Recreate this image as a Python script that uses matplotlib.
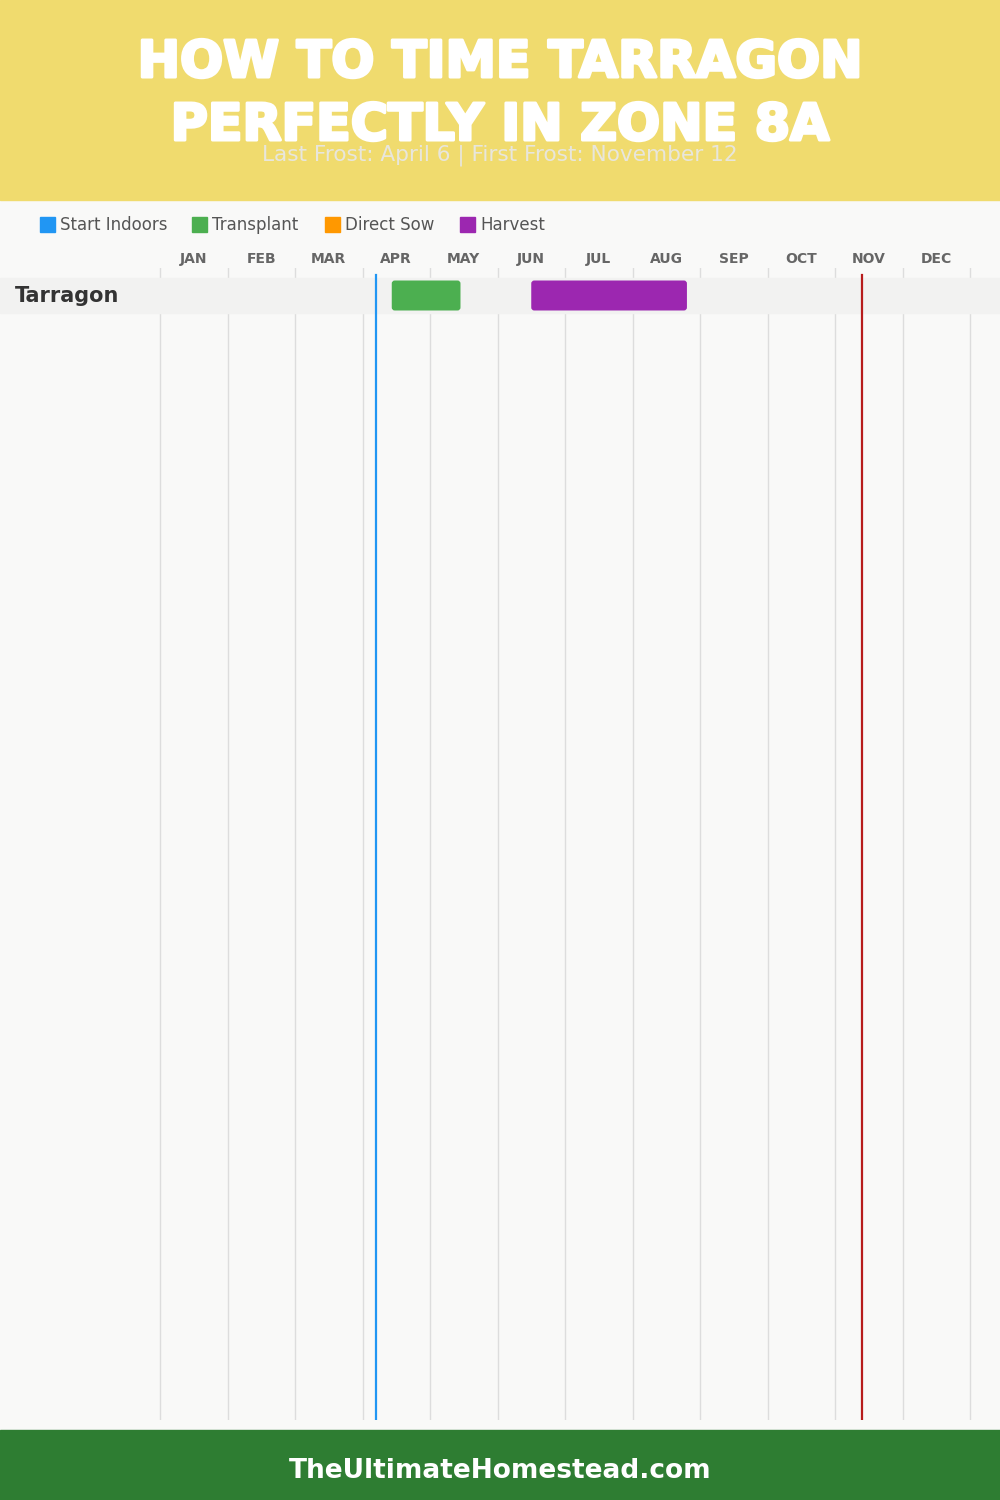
import matplotlib
matplotlib.use("Agg")
import matplotlib.pyplot as plt
import matplotlib.patheffects as pe
from matplotlib.patches import Rectangle, FancyBboxPatch

# data
months = ["JAN", "FEB", "MAR", "APR", "MAY", "JUN", "JUL", "AUG", "SEP", "OCT", "NOV", "DEC"]
days_in_month = [31, 28, 31, 30, 31, 30, 31, 31, 30, 31, 30, 31]
crops = ["Tarragon"]
transplant = [((4, 13), (5, 14))]
harvest = [((6, 15), (8, 25))]
last_frost = (4, 6)
first_frost = (11, 12)
legend_names = ["Start Indoors", "Transplant", "Direct Sow", "Harvest"]
legend_colors = ["#2196f3", "#4caf50", "#ff9800", "#9c27b0"]


def to_x(md):
    m, d = md
    return (m - 1) + d / days_in_month[m - 1]


W, H = 1000, 1500
fig = plt.figure(figsize=(10, 15), dpi=100)
fig.patch.set_facecolor("#f9f9f8")

# header / footer bands
fig.patches.append(Rectangle((0, 1 - 200 / H), 1, 200 / H, transform=fig.transFigure,
                             color="#f0db6e", zorder=0))
fig.patches.append(Rectangle((0, 0), 1, 70 / H, transform=fig.transFigure,
                             color="#2e7d32", zorder=0))

heavy = [pe.withStroke(linewidth=2.2, foreground="white")]
fig.text(0.5, 1 - 63 / H, "HOW TO TIME TARRAGON", ha="center", va="center",
         fontsize=36.5, fontweight="bold", color="white", path_effects=heavy)
fig.text(0.5, 1 - 126 / H, "PERFECTLY IN ZONE 8A", ha="center", va="center",
         fontsize=36.5, fontweight="bold", color="white", path_effects=heavy)
fig.text(0.5, 1 - 155 / H, "Last Frost: April 6 | First Frost: November 12", ha="center",
         va="center", fontsize=15.6, color="#e8e6dc")
fig.text(0.5, 29 / H, "TheUltimateHomestead.com", ha="center", va="center",
         fontsize=19, fontweight="bold", color="white")

# legend
lx = [40, 192, 325, 460]
for x, name, c in zip(lx, legend_names, legend_colors):
    fig.patches.append(Rectangle((x / W, 1 - 232 / H), 15 / W, 15 / H,
                                 transform=fig.transFigure, color=c, zorder=2))
    fig.text((x + 20) / W, 1 - 225 / H, name, ha="left", va="center",
             fontsize=12, color="#555555")

# chart axes: full width, y from 268 to 1420 px (pixel units inside)
top, bot = 268, 1420
ax = fig.add_axes([0, 1 - bot / H, 1, (bot - top) / H])
px = 12 / 810
ax.set_xlim(-160 * px, 840 * px)
ax.set_ylim(bot, top)
ax.axis("off")

for i in range(13):
    ax.axvline(i, color="#dddddd", lw=1, zorder=1)
for i, m in enumerate(months):
    fig.text((160 + (i + 0.5) * 67.5) / W, 1 - 259 / H, m, ha="center", va="center",
             fontsize=10, fontweight="bold", color="#666666")

row_h = 35
for r, crop in enumerate(crops):
    yc = 295.5 + r * row_h
    ax.add_patch(Rectangle((-160 * px, yc - row_h / 2), 1000 * px, row_h,
                           color="#f2f2f1", zorder=2))
    ax.text(-145 * px, yc, crop, ha="left", va="center", fontsize=15,
            fontweight="bold", color="#333333", zorder=5)
    for spans, c in ((transplant, legend_colors[1]), (harvest, legend_colors[3])):
        s, e = spans[r]
        x0, x1 = to_x(s), to_x(e)
        ax.add_patch(FancyBboxPatch((x0, yc - 15), x1 - x0, 30,
                                    boxstyle="round,pad=0,rounding_size=0.045",
                                    mutation_aspect=67.5, color=c, lw=0, zorder=4))

ax.plot([to_x(last_frost)] * 2, [275, bot], color="#2196f3", lw=1.6, zorder=6)
ax.plot([to_x(first_frost)] * 2, [275, bot], color="#b71c1c", lw=1.6, zorder=6)

fig.savefig("out.png", dpi=100, facecolor=fig.get_facecolor())
